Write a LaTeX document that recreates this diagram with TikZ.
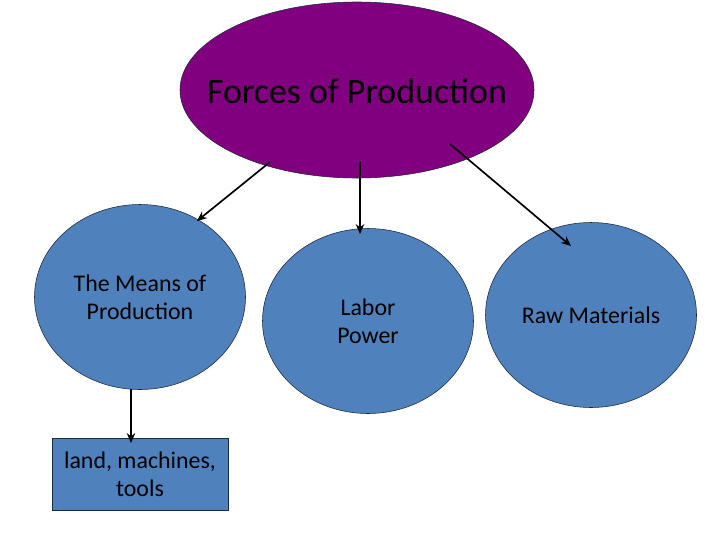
\documentclass[tikz,border=0pt]{standalone}
\usepackage{fontspec}
\setmainfont{Carlito}
\usetikzlibrary{shapes.geometric, arrows.meta, positioning}
\definecolor{forcepurple}{RGB}{128, 0, 128}
\definecolor{partblue}{RGB}{79, 129, 189}
\definecolor{edgedark}{RGB}{30, 40, 60}

\begin{document}
\begin{tikzpicture}[x=0.025cm, y=-0.025cm,
    topoval/.style={ellipse, draw=edgedark, fill=forcepurple, minimum width=354*0.025cm, minimum height=176*0.025cm, inner sep=0pt},
    partoval/.style={ellipse, draw=edgedark, fill=partblue, minimum width=211*0.025cm, minimum height=185*0.025cm, inner sep=0pt, align=center, font=\fontsize{17}{19.8}\selectfont},
    itembox/.style={rectangle, draw=edgedark, fill=partblue, minimum width=176*0.025cm, minimum height=72*0.025cm, align=center, font=\fontsize{17}{19.8}\selectfont},
    link/.style={-{Stealth[length=7pt, width=6pt]}, line width=1.2pt, black}]
  \useasboundingbox (0,0) rectangle (720,540);

  % Main oval
  \node[topoval] (forces) at (357, 90) {};
  \node[font=\fontsize{25.5}{30}\selectfont] (forceslabel) at (357, 91) {Forces of Production};

  % Three parts
  \node[partoval] (means) at (140, 297) {The Means of\\Production};
  \node[partoval] (labor) at (368, 321) {Labor\\Power};
  \node[partoval] (raw) at (591, 315) {Raw Materials};

  % Example box
  \node[itembox] (land) at (140, 474) {land, machines,\\tools};

  % Arrow ends
  \coordinate (fromleft) at (270, 162);
  \coordinate (toleft) at (197, 221);
  \coordinate (frommid) at (360, 162);
  \coordinate (tomid) at (360, 234);
  \coordinate (fromright) at (450, 144);
  \coordinate (toright) at (571, 246);
  \coordinate (frommeans) at (131, 389);
  \coordinate (toland) at (131, 443);

  \draw[link] (fromleft) -- (toleft);
  \draw[link] (frommid) -- (tomid);
  \draw[link] (fromright) -- (toright);
  \draw[link] (frommeans) -- (toland);
\end{tikzpicture}
\end{document}
